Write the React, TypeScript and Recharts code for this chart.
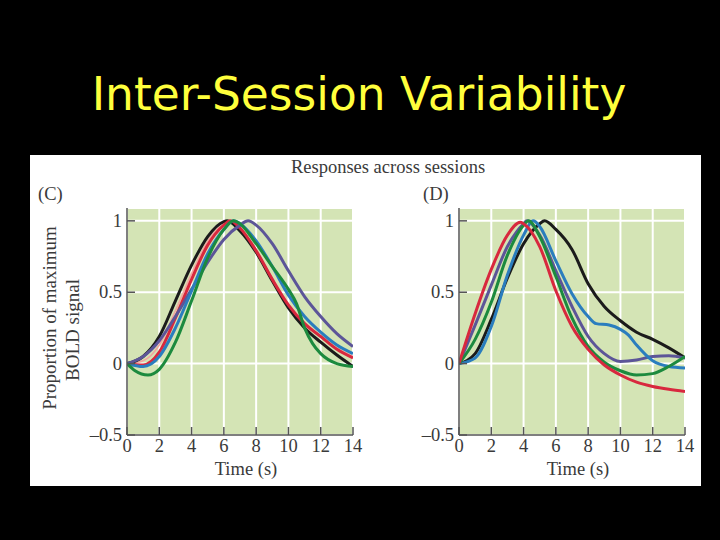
import { LineChart, Line, XAxis, YAxis, CartesianGrid } from "recharts";

// time (s), proportion of max BOLD signal
const panelCBlack = [[0, 0], [1, 0.05], [2, 0.19], [3, 0.44], [4, 0.69], [5, 0.89], [6, 0.995], [6.2, 1.0], [7, 0.93], [8, 0.78], [9, 0.58], [10, 0.39], [11, 0.25], [12, 0.15], [13, 0.06], [14, -0.02]];
const panelCPink = [[0, 0], [1, 0.02], [2, 0.13], [3, 0.37], [4, 0.63], [5, 0.86], [6, 0.98], [6.3, 1.0], [7, 0.94], [8, 0.8], [9, 0.6], [10, 0.42], [11, 0.29], [12, 0.19], [13, 0.11], [14, 0.05]];
const panelCRed = [[0, 0], [1, -0.01], [2, 0.08], [3, 0.32], [4, 0.59], [5, 0.83], [6, 0.97], [6.4, 1.0], [7, 0.95], [8, 0.79], [9, 0.59], [10, 0.41], [11, 0.28], [12, 0.19], [13, 0.1], [14, 0.04]];
const panelCBlue = [[0, 0], [1, -0.02], [2, 0.05], [3, 0.25], [4, 0.51], [5, 0.77], [6, 0.94], [6.6, 1.0], [7, 0.98], [8, 0.86], [9, 0.68], [10, 0.48], [11, 0.33], [12, 0.22], [13, 0.13], [14, 0.07]];
const panelCGreen = [[0, 0], [0.5, -0.05], [1.3, -0.08], [2, -0.04], [3, 0.15], [4, 0.44], [5, 0.74], [6, 0.94], [6.6, 1.0], [7, 0.98], [8, 0.84], [9, 0.68], [10, 0.52], [10.5, 0.42], [11, 0.25], [11.5, 0.14], [12, 0.07], [13, 0.0], [14, -0.02]];
const panelCPurple = [[0, 0], [1, 0.05], [2, 0.16], [3, 0.33], [4, 0.52], [5, 0.71], [6, 0.87], [7, 0.97], [7.5, 1.0], [8, 0.97], [9, 0.84], [10, 0.65], [11, 0.47], [12, 0.33], [13, 0.21], [14, 0.12]];

const panelDRed = [[0, 0], [1, 0.35], [2, 0.66], [3, 0.9], [3.8, 0.99], [4, 0.98], [5, 0.82], [6, 0.51], [7, 0.26], [8, 0.1], [9, -0.01], [10, -0.08], [11, -0.13], [12, -0.16], [13, -0.18], [14, -0.195]];
const panelDPurple = [[0, 0], [1, 0.27], [2, 0.55], [3, 0.82], [4, 0.98], [4.2, 1.0], [5, 0.9], [6, 0.65], [7, 0.4], [8, 0.19], [9, 0.07], [10, 0.015], [11, 0.025], [12, 0.05], [13, 0.055], [14, 0.04]];
const panelDGreen = [[0, 0], [1, 0.17], [2, 0.43], [3, 0.76], [4, 0.97], [4.3, 1.0], [5, 0.89], [6, 0.61], [7, 0.32], [8, 0.12], [9, 0.01], [10, -0.05], [11, -0.08], [12, -0.07], [13, -0.02], [14, 0.05]];
const panelDBlue = [[0, 0], [1, 0.04], [2, 0.26], [3, 0.62], [4, 0.9], [4.6, 1.0], [5, 0.96], [6, 0.72], [7, 0.49], [8, 0.33], [8.5, 0.28], [9.3, 0.27], [10, 0.24], [10.5, 0.2], [11, 0.13], [12, 0.02], [13, -0.02], [14, -0.03]];
const panelDBlack = [[0, 0], [1, 0.07], [2, 0.31], [3, 0.6], [4, 0.84], [5, 0.98], [5.3, 1.0], [6, 0.94], [7, 0.8], [8, 0.56], [9, 0.4], [10, 0.3], [11, 0.22], [12, 0.17], [13, 0.11], [14, 0.04]];

const xTicks = [0, 2, 4, 6, 8, 10, 12, 14];
const yTicks = [-0.5, 0, 0.5, 1];

const serif = "'Liberation Serif', 'DejaVu Serif', serif";
const ink = "#3a3a3a";

const toRows = (pts: number[][]) => pts.map(([t, v]) => ({ t, v }));

const panelC = [
  { pts: panelCPink, color: "#F3A5A0", w: 1.6 },
  { pts: panelCBlack, color: "#1b1b1b", w: 3 },
  { pts: panelCRed, color: "#D8283E", w: 3 },
  { pts: panelCPurple, color: "#5C5598", w: 3 },
  { pts: panelCBlue, color: "#2A7DBE", w: 3 },
  { pts: panelCGreen, color: "#1C8A3E", w: 3 },
];

const panelD = [
  { pts: panelDBlack, color: "#1b1b1b", w: 3 },
  { pts: panelDPurple, color: "#5C5598", w: 3 },
  { pts: panelDBlue, color: "#2A7DBE", w: 3 },
  { pts: panelDGreen, color: "#1C8A3E", w: 3 },
  { pts: panelDRed, color: "#D8283E", w: 3 },
];

const fmt = (v: number) => (v < 0 ? "\u2013" + Math.abs(v) : String(v));

// ticks point inward, labels drawn by hand
const XTick = (props: any) => {
  const { x, y, payload } = props;
  return (
    <g>
      <line x1={x} x2={x} y1={y} y2={y - 8} stroke="#555" strokeWidth={1.5} />
      <text x={x} y={y + 17} textAnchor="middle" fontFamily={serif} fontSize={18.5} fill={ink}>
        {payload.value}
      </text>
    </g>
  );
};

const YTick = (props: any) => {
  const { x, y, payload } = props;
  return (
    <g>
      <line x1={x} x2={x + 8} y1={y} y2={y} stroke="#555" strokeWidth={1.5} />
      <text x={x - 5} y={y + 6} textAnchor="end" fontFamily={serif} fontSize={18.5} fill={ink}>
        {fmt(payload.value)}
      </text>
    </g>
  );
};

function Panel({ left, width, ml, mr, series }: any) {
  return (
    <div style={{ position: "absolute", left, top: 155 }}>
      <LineChart width={width} height={331} margin={{ top: 53, right: mr, bottom: 21, left: ml }}>
        <CartesianGrid fill="#D4E4B5" fillOpacity={1} stroke="#ffffff" strokeWidth={2} />
        <XAxis
          type="number"
          dataKey="t"
          domain={[0, 14]}
          ticks={xTicks}
          interval={0}
          height={30}
          tickSize={0}
          tickMargin={0}
          tick={XTick}
          axisLine={{ stroke: "#555", strokeWidth: 1.5 }}
          allowDataOverflow
        />
        <YAxis
          type="number"
          domain={[-0.5, 1.09]}
          ticks={yTicks}
          interval={0}
          width={40}
          tickSize={0}
          tickMargin={0}
          tick={YTick}
          axisLine={{ stroke: "#555", strokeWidth: 1.5 }}
          allowDataOverflow
        />
        {series.map((s: any, i: number) => (
          <Line
            key={i}
            data={toRows(s.pts)}
            dataKey="v"
            type="monotone"
            stroke={s.color}
            strokeWidth={s.w}
            dot={false}
            activeDot={false}
            isAnimationActive={false}
          />
        ))}
      </LineChart>
    </div>
  );
}

export default function App() {
  return (
    <div style={{ position: "fixed", left: 0, top: 0, width: 720, height: 540, background: "#000", overflow: "hidden" }}>
      <div style={{ position: "absolute", left: 30, top: 155, width: 671, height: 331, background: "#fff" }} />
      <Panel left={30} width={340} ml={57} mr={17} series={panelC} />
      <Panel left={370} width={331} ml={49} mr={16} series={panelD} />
      <svg width={720} height={540} style={{ position: "absolute", left: 0, top: 0, pointerEvents: "none" }}>
        <text x={359} y={110} textAnchor="middle" fontFamily="'DejaVu Sans', sans-serif" fontSize={45.5} fill="#FFFF3C">
          Inter-Session Variability
        </text>
        <text x={388} y={173} textAnchor="middle" fontFamily={serif} fontSize={18.5} fill={ink}>
          Responses across sessions
        </text>
        <text x={38} y={200} fontFamily={serif} fontSize={18.5} fill={ink}>(C)</text>
        <text x={423} y={200} fontFamily={serif} fontSize={18.5} fill={ink}>(D)</text>
        <text transform="translate(56,318) rotate(-90)" textAnchor="middle" fontFamily={serif} fontSize={19} fill={ink}>
          Proportion of maximum
        </text>
        <text transform="translate(79,330) rotate(-90)" textAnchor="middle" fontFamily={serif} fontSize={19} fill={ink}>
          BOLD signal
        </text>
        <text x={246} y={475} textAnchor="middle" fontFamily={serif} fontSize={18.5} fill={ink}>Time (s)</text>
        <text x={578} y={475} textAnchor="middle" fontFamily={serif} fontSize={18.5} fill={ink}>Time (s)</text>
      </svg>
    </div>
  );
}
